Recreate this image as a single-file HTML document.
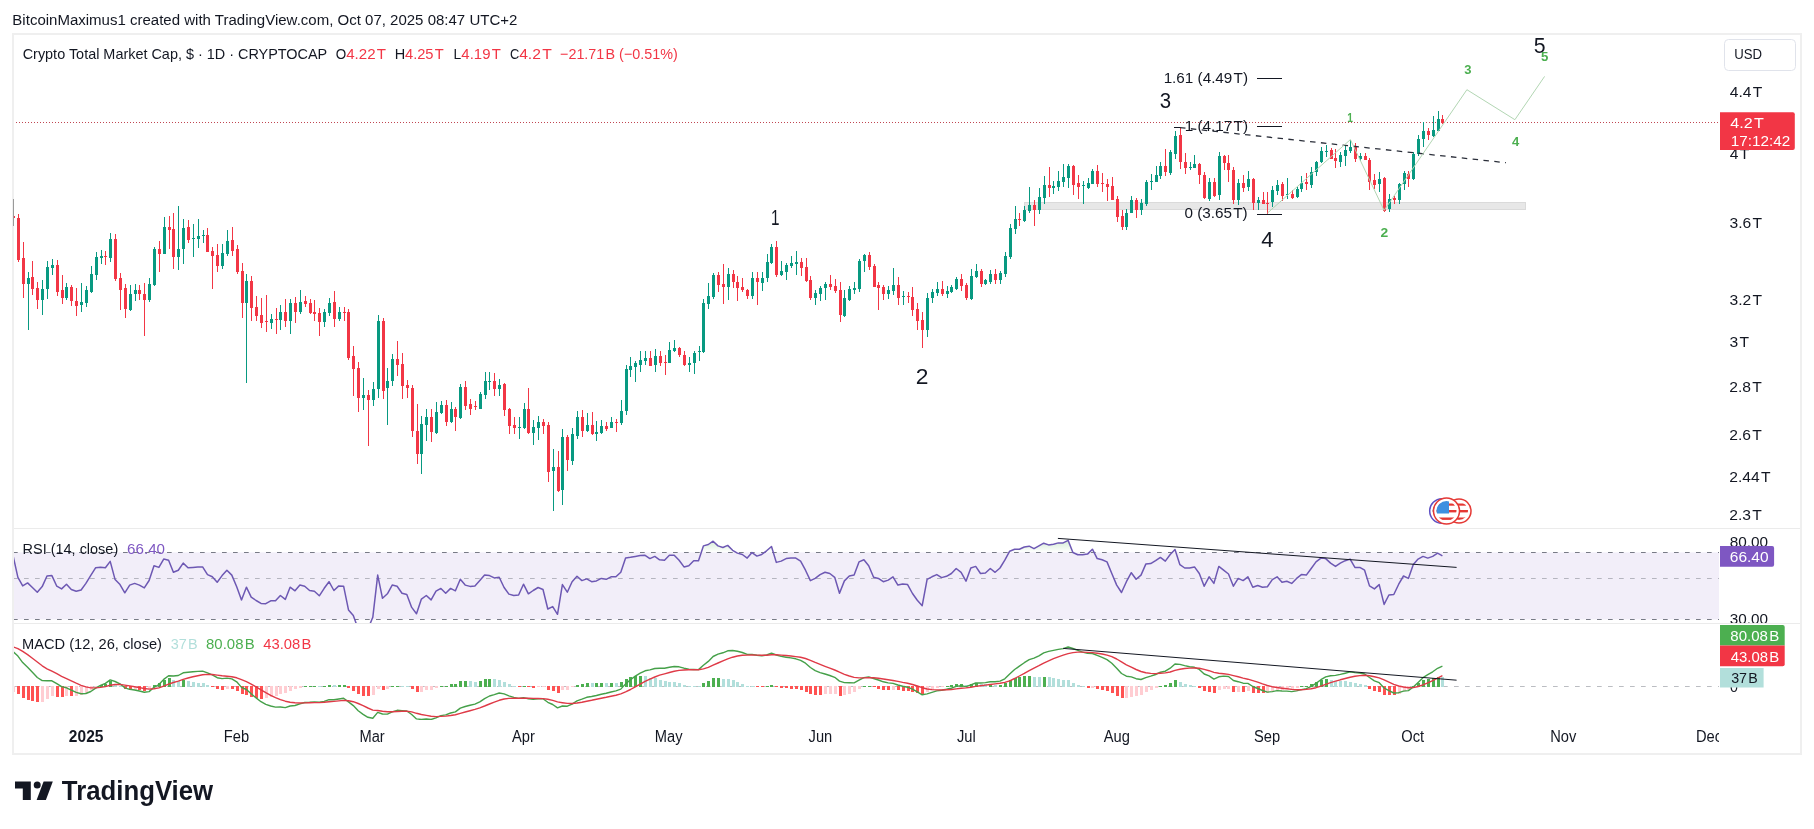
<!DOCTYPE html>
<html><head><meta charset="utf-8"><title>Crypto Total Market Cap chart</title>
<style>html,body{margin:0;padding:0;background:#fff;}body{width:1814px;height:829px;position:relative;overflow:hidden;font-family:"Liberation Sans",sans-serif;}</style>
</head><body>
<svg width="1814" height="829" viewBox="0 0 1814 829" style="position:absolute;left:0;top:0"><defs><clipPath id="cp"><rect x="13" y="34" width="1706" height="494"/></clipPath><clipPath id="cr"><rect x="13" y="529" width="1706" height="94"/></clipPath><clipPath id="cm"><rect x="13" y="624" width="1706" height="96"/></clipPath><clipPath id="ct"><rect x="13" y="720" width="1706" height="33"/></clipPath></defs><rect x="12" y="33" width="1790" height="722" fill="#fff"/><path d="M13 528.5H1800M13 623.5H1800" stroke="#ebebeb" stroke-width="1"/><g clip-path="url(#cp)"><rect x="1024.5" y="202.5" width="501" height="7" fill="#e7e7e7" stroke="#dadada" stroke-width="1"/><line x1="13" y1="122.5" x2="1719" y2="122.5" stroke="#c04652" stroke-width="1" stroke-dasharray="1 2"/><path d="M28.5 272V330M42.5 280V315M47.5 261V299M52.5 259V275M66.5 283V300M81.5 283V312M86.5 286V307M91.5 266V293M96.5 252V280M101.5 250V264M110.5 233V262M130.5 285V311M135.5 284V301M149.5 278V302M154.5 247V286M164.5 217V254M178.5 206V270M183.5 219V264M193.5 224V257M198.5 219V248M203.5 230V243M222.5 244V269M227.5 230V256M246.5 274V383M271.5 314V329M280.5 305V330M290.5 299V334M300.5 290V314M324.5 309V327M329.5 298V316M339.5 307V321M363.5 378V410M373.5 382V406M378.5 315V398M387.5 368V425M392.5 354V386M421.5 416V474M426.5 409V441M436.5 402V434M441.5 401V414M451.5 402V423M460.5 384V419M480.5 392V409M485.5 372V399M489.5 372V390M499.5 379V396M519.5 417V439M524.5 403V429M533.5 420V445M538.5 416V440M553.5 449V511M562.5 429V505M572.5 428V465M577.5 411V439M587.5 413V432M596.5 421V441M601.5 420V434M611.5 417V428M621.5 400V425M626.5 365V415M630.5 357V377M635.5 361V382M640.5 351V372M645.5 351V365M655.5 349V372M669.5 342V363M674.5 340V352M689.5 357V372M694.5 351V374M699.5 346V361M703.5 299V353M708.5 283V309M713.5 273V299M728.5 268V300M752.5 272V299M762.5 272V291M767.5 254V282M771.5 244V264M781.5 261V276M786.5 263V280M791.5 256V268M796.5 251V275M815.5 290V305M820.5 286V301M825.5 282V300M844.5 290V317M849.5 286V301M854.5 282V294M859.5 259V292M864.5 254V272M888.5 286V299M893.5 268V295M903.5 291V305M927.5 293V337M932.5 289V303M937.5 282V296M947.5 286V298M951.5 285V293M956.5 277V290M971.5 269V300M976.5 264V278M985.5 279V285M990.5 270V284M1000.5 271V284M1005.5 252V277M1010.5 224V259M1015.5 206V234M1024.5 206V222M1029.5 187V213M1039.5 188V214M1044.5 176V204M1053.5 181V194M1058.5 171V191M1063.5 164V187M1068.5 164V188M1083.5 181V204M1088.5 178V189M1092.5 169V184M1126.5 209V230M1131.5 196V213M1141.5 199V215M1146.5 180V206M1151.5 174V190M1156.5 166V182M1160.5 162V179M1170.5 150V175M1175.5 131V159M1190.5 162V170M1194.5 155V168M1209.5 178V201M1219.5 152V200M1238.5 179V205M1248.5 171V191M1258.5 197V210M1272.5 186V207M1277.5 180V195M1287.5 178V199M1297.5 187V198M1301.5 176V192M1311.5 167V188M1316.5 161V176M1321.5 147V163M1326.5 145V157M1340.5 152V167M1345.5 146V166M1350.5 140V153M1360.5 153V161M1379.5 172V192M1389.5 194V212M1399.5 183V204M1404.5 171V190M1413.5 152V180M1418.5 135V156M1423.5 122V147M1433.5 116V137M1438.5 111V131" stroke="#089981" stroke-width="1" fill="none"/><path d="M27 278h3v6h-3zM41 289h3v11h-3zM46 267h3v22h-3zM51 265h3v3h-3zM65 287h3v11h-3zM80 302h3v3h-3zM85 290h3v13h-3zM90 274h3v18h-3zM95 257h3v18h-3zM100 256h3v2h-3zM109 239h3v19h-3zM129 294h3v16h-3zM134 290h3v4h-3zM148 284h3v16h-3zM153 249h3v36h-3zM163 227h3v27h-3zM177 249h3v8h-3zM182 228h3v21h-3zM192 238h3v1h-3zM197 236h3v3h-3zM202 235h3v1h-3zM221 253h3v13h-3zM226 241h3v13h-3zM245 281h3v22h-3zM270 319h3v4h-3zM279 312h3v8h-3zM289 303h3v18h-3zM299 302h3v10h-3zM323 312h3v10h-3zM328 303h3v10h-3zM338 312h3v7h-3zM362 395h3v3h-3zM372 389h3v11h-3zM377 321h3v68h-3zM386 381h3v7h-3zM391 359h3v22h-3zM420 424h3v30h-3zM425 417h3v8h-3zM435 412h3v21h-3zM440 405h3v8h-3zM450 409h3v13h-3zM459 387h3v31h-3zM479 394h3v15h-3zM484 381h3v14h-3zM488 381h3v1h-3zM498 385h3v4h-3zM518 427h3v1h-3zM523 409h3v19h-3zM532 427h3v6h-3zM537 422h3v6h-3zM552 467h3v4h-3zM561 437h3v53h-3zM571 434h3v27h-3zM576 417h3v19h-3zM586 425h3v6h-3zM595 432h3v2h-3zM600 426h3v7h-3zM610 422h3v6h-3zM620 411h3v12h-3zM625 369h3v42h-3zM629 366h3v4h-3zM634 363h3v4h-3zM639 360h3v5h-3zM644 358h3v3h-3zM654 356h3v9h-3zM668 350h3v13h-3zM673 348h3v3h-3zM688 363h3v2h-3zM693 353h3v10h-3zM698 351h3v1h-3zM702 303h3v49h-3zM707 296h3v8h-3zM712 275h3v22h-3zM727 274h3v13h-3zM751 278h3v18h-3zM761 278h3v5h-3zM766 262h3v16h-3zM770 247h3v16h-3zM780 271h3v4h-3zM785 265h3v7h-3zM790 263h3v3h-3zM795 262h3v2h-3zM814 293h3v5h-3zM819 288h3v6h-3zM824 284h3v4h-3zM843 298h3v18h-3zM848 289h3v11h-3zM853 288h3v2h-3zM858 261h3v28h-3zM863 255h3v6h-3zM887 290h3v4h-3zM892 285h3v6h-3zM902 296h3v1h-3zM926 298h3v32h-3zM931 292h3v6h-3zM936 289h3v4h-3zM946 291h3v3h-3zM950 287h3v5h-3zM955 279h3v10h-3zM970 276h3v23h-3zM975 271h3v6h-3zM984 280h3v4h-3zM989 274h3v8h-3zM999 273h3v7h-3zM1004 256h3v18h-3zM1009 228h3v29h-3zM1014 219h3v10h-3zM1023 210h3v11h-3zM1028 205h3v6h-3zM1038 197h3v13h-3zM1043 185h3v13h-3zM1052 186h3v2h-3zM1057 181h3v6h-3zM1062 177h3v5h-3zM1067 166h3v12h-3zM1082 185h3v1h-3zM1087 183h3v5h-3zM1091 171h3v13h-3zM1125 213h3v14h-3zM1130 200h3v13h-3zM1140 203h3v7h-3zM1145 182h3v22h-3zM1150 181h3v1h-3zM1155 175h3v7h-3zM1159 166h3v10h-3zM1169 152h3v21h-3zM1174 136h3v18h-3zM1189 167h3v1h-3zM1193 164h3v4h-3zM1208 182h3v17h-3zM1218 156h3v39h-3zM1237 183h3v17h-3zM1247 179h3v8h-3zM1257 200h3v3h-3zM1271 190h3v12h-3zM1276 185h3v6h-3zM1286 194h3v1h-3zM1296 189h3v8h-3zM1300 183h3v6h-3zM1310 172h3v13h-3zM1315 162h3v10h-3zM1320 151h3v11h-3zM1325 151h3v1h-3zM1339 155h3v7h-3zM1344 150h3v6h-3zM1349 147h3v4h-3zM1359 156h3v3h-3zM1378 179h3v5h-3zM1388 199h3v10h-3zM1398 184h3v16h-3zM1403 173h3v11h-3zM1412 154h3v25h-3zM1417 139h3v15h-3zM1422 131h3v8h-3zM1432 130h3v6h-3zM1437 119h3v12h-3z" fill="#089981"/><path d="M13.5 199V225M18.5 214V262M23.5 242V298M32.5 261V295M37.5 282V309M57.5 260V296M62.5 275V304M71.5 285V306M76.5 288V316M105.5 251V265M115.5 234V281M120.5 273V310M125.5 284V318M139.5 285V300M144.5 283V336M159.5 241V272M169.5 216V249M173.5 213V269M188.5 220V243M207.5 228V252M212.5 247V289M217.5 244V272M232.5 227V256M237.5 245V274M242.5 263V318M251.5 276V321M256.5 296V321M261.5 298V328M266.5 295V332M276.5 308V334M285.5 299V327M295.5 297V323M305.5 296V307M310.5 299V314M314.5 300V321M319.5 308V336M334.5 291V327M344.5 307V321M348.5 309V360M353.5 346V396M358.5 362V412M368.5 390V446M383.5 318V399M397.5 341V376M402.5 353V399M407.5 380V398M412.5 385V437M417.5 404V464M431.5 409V442M446.5 400V426M455.5 407V431M465.5 381V410M470.5 399V415M475.5 401V410M494.5 373V396M504.5 383V416M509.5 408V434M514.5 417V434M528.5 388V434M543.5 419V434M548.5 422V482M558.5 451V492M567.5 435V471M582.5 410V437M592.5 412V435M606.5 422V431M616.5 419V432M650.5 351V366M660.5 351V366M665.5 355V375M679.5 347V357M684.5 351V366M718.5 272V292M723.5 264V304M733.5 270V288M737.5 276V301M742.5 278V292M747.5 289V299M757.5 272V305M776.5 241V277M801.5 258V276M806.5 258V282M810.5 276V300M830.5 275V290M835.5 279V293M840.5 282V322M869.5 252V270M874.5 264V287M878.5 282V310M883.5 285V300M898.5 277V305M908.5 292V303M912.5 287V316M917.5 303V330M922.5 312V348M942.5 281V296M961.5 274V291M966.5 283V300M981.5 269V287M995.5 269V284M1019.5 213V226M1034.5 200V226M1049.5 167V197M1073.5 165V195M1078.5 175V199M1097.5 165V187M1102.5 173V192M1107.5 179V201M1112.5 177V200M1117.5 196V222M1122.5 210V230M1136.5 198V218M1165.5 149V176M1180.5 127V169M1185.5 153V174M1199.5 163V184M1204.5 172V199M1214.5 178V197M1224.5 155V170M1228.5 155V182M1233.5 167V204M1243.5 175V192M1253.5 178V210M1263.5 192V204M1267.5 192V214M1282.5 182V201M1292.5 190V199M1306.5 173V190M1331.5 148V159M1335.5 149V168M1355.5 143V162M1365.5 153V160M1369.5 158V190M1374.5 174V189M1384.5 177V212M1394.5 196V204M1408.5 171V187M1428.5 128V140M1442.5 115V124" stroke="#f23645" stroke-width="1" fill="none"/><path d="M12 216h3v2h-3zM17 218h3v42h-3zM22 258h3v26h-3zM31 277h3v12h-3zM36 288h3v12h-3zM56 265h3v27h-3zM61 290h3v8h-3zM70 287h3v14h-3zM75 301h3v5h-3zM104 256h3v1h-3zM114 239h3v40h-3zM119 278h3v12h-3zM124 288h3v21h-3zM138 290h3v4h-3zM143 294h3v6h-3zM158 249h3v5h-3zM168 227h3v3h-3zM172 229h3v28h-3zM187 227h3v13h-3zM206 235h3v17h-3zM211 251h3v5h-3zM216 255h3v11h-3zM231 240h3v11h-3zM236 249h3v23h-3zM241 271h3v32h-3zM250 281h3v27h-3zM255 307h3v9h-3zM260 315h3v8h-3zM265 321h3v1h-3zM275 319h3v1h-3zM284 312h3v9h-3zM294 303h3v9h-3zM304 301h3v3h-3zM309 303h3v10h-3zM313 312h3v2h-3zM318 313h3v9h-3zM333 302h3v17h-3zM343 312h3v1h-3zM347 312h3v46h-3zM352 356h3v13h-3zM357 368h3v30h-3zM367 395h3v5h-3zM382 321h3v70h-3zM396 359h3v6h-3zM401 364h3v22h-3zM406 385h3v3h-3zM411 388h3v43h-3zM416 431h3v23h-3zM430 417h3v15h-3zM445 405h3v17h-3zM454 409h3v8h-3zM464 387h3v19h-3zM469 404h3v5h-3zM474 406h3v1h-3zM493 381h3v8h-3zM503 384h3v26h-3zM508 409h3v17h-3zM513 425h3v3h-3zM527 409h3v24h-3zM542 422h3v4h-3zM547 425h3v47h-3zM557 467h3v24h-3zM566 437h3v23h-3zM581 417h3v14h-3zM591 425h3v9h-3zM605 426h3v3h-3zM615 422h3v1h-3zM649 358h3v8h-3zM659 356h3v7h-3zM664 362h3v1h-3zM678 348h3v7h-3zM683 355h3v10h-3zM717 275h3v10h-3zM722 284h3v3h-3zM732 274h3v8h-3zM736 282h3v6h-3zM741 287h3v3h-3zM746 290h3v6h-3zM756 278h3v4h-3zM775 247h3v28h-3zM800 262h3v6h-3zM805 267h3v14h-3zM809 280h3v18h-3zM829 284h3v3h-3zM834 286h3v5h-3zM839 290h3v25h-3zM868 255h3v12h-3zM873 266h3v21h-3zM877 285h3v3h-3zM882 287h3v7h-3zM897 285h3v13h-3zM907 296h3v1h-3zM911 297h3v13h-3zM916 309h3v12h-3zM921 320h3v10h-3zM941 289h3v5h-3zM960 279h3v7h-3zM965 285h3v13h-3zM980 271h3v13h-3zM994 274h3v6h-3zM1018 219h3v1h-3zM1033 205h3v5h-3zM1048 185h3v3h-3zM1072 166h3v19h-3zM1077 183h3v4h-3zM1096 171h3v13h-3zM1101 183h3v1h-3zM1106 184h3v3h-3zM1111 186h3v14h-3zM1116 199h3v18h-3zM1121 216h3v11h-3zM1135 200h3v10h-3zM1164 166h3v6h-3zM1179 135h3v27h-3zM1184 162h3v6h-3zM1198 164h3v11h-3zM1203 175h3v23h-3zM1213 182h3v14h-3zM1223 156h3v7h-3zM1227 163h3v7h-3zM1232 170h3v30h-3zM1242 183h3v5h-3zM1252 179h3v24h-3zM1262 200h3v4h-3zM1266 203h3v1h-3zM1281 184h3v12h-3zM1291 194h3v4h-3zM1305 182h3v2h-3zM1330 150h3v9h-3zM1334 158h3v3h-3zM1354 147h3v12h-3zM1364 156h3v4h-3zM1368 160h3v22h-3zM1373 180h3v5h-3zM1383 178h3v33h-3zM1393 198h3v2h-3zM1407 174h3v5h-3zM1427 131h3v4h-3zM1441 119h3v4h-3z" fill="#f23645"/><line x1="1257" y1="78.5" x2="1282" y2="78.5" stroke="#131722" stroke-width="1"/><line x1="1257" y1="126.5" x2="1282" y2="126.5" stroke="#131722" stroke-width="1"/><line x1="1257" y1="214.5" x2="1282" y2="214.5" stroke="#131722" stroke-width="1"/><line x1="1174" y1="127.5" x2="1181" y2="127.5" stroke="#131722" stroke-width="1"/><line x1="1180" y1="127.6" x2="1506" y2="162.7" stroke="#2a2e39" stroke-width="1.3" stroke-dasharray="5.5 5.4"/><polyline points="1267.4,213.1 1350.4,139.6 1384.1,210.4 1466.9,89.7 1514.9,119.7 1544.6,76.4" fill="none" stroke="#b2d6b3" stroke-width="1"/><clipPath id="fc1"><circle cx="1442" cy="511" r="9.3"/></clipPath><circle cx="1442" cy="511" r="12.3" fill="#fff" stroke="#5c4fc4" stroke-width="1.5"/><g clip-path="url(#fc1)"><rect x="1427" y="503.5" width="30" height="2.2" fill="#e53935"/><rect x="1427" y="510" width="30" height="2.4" fill="#e53935"/><rect x="1427" y="517.5" width="30" height="2.4" fill="#e53935"/><rect x="1429.7" y="498.7" width="14.8" height="14.8" fill="#3d8fe0"/></g><clipPath id="fc2"><circle cx="1459" cy="511" r="9"/></clipPath><circle cx="1459" cy="511" r="12" fill="#fff" stroke="#e53935" stroke-width="1.5"/><g clip-path="url(#fc2)"><rect x="1444" y="503.5" width="30" height="2.2" fill="#e53935"/><rect x="1444" y="510" width="30" height="2.4" fill="#e53935"/><rect x="1444" y="517.5" width="30" height="2.4" fill="#e53935"/></g><clipPath id="fc3"><circle cx="1446.5" cy="511" r="10"/></clipPath><circle cx="1446.5" cy="511" r="13" fill="#fff" stroke="#e53935" stroke-width="1.5"/><g clip-path="url(#fc3)"><rect x="1431.5" y="503.5" width="30" height="2.2" fill="#e53935"/><rect x="1431.5" y="510" width="30" height="2.4" fill="#e53935"/><rect x="1431.5" y="517.5" width="30" height="2.4" fill="#e53935"/><rect x="1433.5" y="498" width="15.5" height="15.5" fill="#3d8fe0"/></g></g><g clip-path="url(#cr)"><rect x="13" y="552.4" width="1706" height="67" fill="#7e57c2" fill-opacity="0.1"/><line x1="13" y1="552.5" x2="1719" y2="552.5" stroke="#787b86" stroke-width="1" stroke-dasharray="4.7 6.3"/><line x1="13" y1="578.5" x2="1719" y2="578.5" stroke="#787b86" stroke-opacity="0.5" stroke-width="1" stroke-dasharray="4.7 6.3"/><line x1="13" y1="619.5" x2="1719" y2="619.5" stroke="#787b86" stroke-width="1" stroke-dasharray="4.7 6.3"/><defs><linearGradient id="obg" gradientUnits="userSpaceOnUse" x1="0" y1="552.4" x2="0" y2="502.2"><stop offset="0" stop-color="#4caf50" stop-opacity="0"/><stop offset="1" stop-color="#4caf50" stop-opacity="1"/></linearGradient><clipPath id="obc"><rect x="13" y="529" width="1706" height="23.4"/></clipPath></defs><polygon points="13.0,555.3 17.9,577.3 22.7,585.9 27.6,582.9 32.4,587.5 37.3,592.2 42.2,586.6 47.0,576.0 51.9,575.6 56.8,586.2 61.6,588.9 66.5,584.2 71.3,589.5 76.2,591.2 81.1,590.0 85.9,583.4 90.8,575.4 95.7,567.7 100.5,567.2 105.4,567.7 110.2,561.4 115.1,579.6 120.0,584.6 124.8,592.8 129.7,585.1 134.6,583.4 139.4,585.1 144.3,587.9 149.1,580.5 154.0,565.7 158.9,567.4 163.7,559.1 168.6,560.2 173.4,572.3 178.3,570.2 183.2,563.1 188.0,567.7 192.9,567.4 197.8,567.0 202.6,566.9 207.5,574.6 212.3,576.8 217.2,582.2 222.1,575.6 226.9,570.2 231.8,575.1 236.7,586.8 241.5,599.9 246.4,587.2 251.2,597.1 256.1,600.5 261.0,603.4 265.8,603.7 270.7,600.8 275.5,600.8 280.4,595.5 285.3,599.4 290.1,587.2 295.0,590.8 299.9,585.1 304.7,586.2 309.6,590.5 314.4,591.3 319.3,595.8 324.2,588.3 329.0,581.7 333.9,590.5 338.8,585.9 343.6,586.2 348.5,609.9 353.3,615.6 358.2,629.0 363.1,633.0 367.9,629.0 372.8,617.3 377.7,575.1 382.5,598.3 387.4,593.8 392.2,585.1 397.1,586.2 402.0,593.3 406.8,594.5 411.7,607.4 416.5,613.7 421.4,599.1 426.3,595.5 431.1,599.9 436.0,591.2 440.9,588.4 445.7,593.3 450.6,588.4 455.4,590.8 460.3,579.3 465.2,585.1 470.0,586.4 474.9,585.9 479.8,580.5 484.6,575.1 489.5,575.6 494.3,577.9 499.2,577.3 504.1,587.5 508.9,594.1 513.8,595.5 518.6,595.0 523.5,584.2 528.4,593.8 533.2,590.5 538.1,587.5 543.0,589.5 547.8,609.0 552.7,606.6 557.5,614.3 562.4,584.6 567.3,592.2 572.1,581.7 577.0,576.3 581.9,580.6 586.7,578.9 591.6,581.7 596.4,580.9 601.3,578.4 606.2,579.3 611.0,576.8 615.9,576.8 620.8,572.3 625.6,558.1 630.5,557.3 635.3,556.4 640.2,555.6 645.1,555.3 649.9,558.6 654.8,556.4 659.6,559.8 664.5,560.2 669.4,555.3 674.2,555.3 679.1,560.3 684.0,566.9 688.8,565.7 693.7,560.7 698.5,560.7 703.4,545.9 708.3,544.5 713.1,541.2 718.0,545.9 722.9,547.5 727.7,545.4 732.6,550.3 737.4,553.1 742.3,554.5 747.2,558.1 752.0,552.6 756.9,556.1 761.7,554.5 766.6,550.8 771.5,546.5 776.3,562.4 781.2,561.1 786.1,558.6 790.9,558.0 795.8,558.1 800.6,561.1 805.5,570.2 810.4,580.6 815.2,578.4 820.1,574.6 825.0,572.3 829.8,573.5 834.7,577.3 839.5,593.3 844.4,580.9 849.3,576.0 854.1,575.1 859.0,561.9 863.9,559.8 868.7,565.7 873.6,577.3 878.4,578.4 883.3,581.7 888.2,580.1 893.0,576.8 897.9,585.1 902.7,583.9 907.6,584.6 912.5,593.5 917.3,600.3 922.2,605.7 927.1,579.3 931.9,576.8 936.8,574.6 941.6,577.6 946.5,576.3 951.4,573.5 956.2,568.5 961.1,572.3 966.0,581.2 970.8,568.0 975.7,566.4 980.5,573.5 985.4,573.0 990.3,568.5 995.1,572.3 1000.0,568.0 1004.8,560.2 1009.7,551.2 1014.6,549.2 1019.4,549.2 1024.3,547.0 1029.2,546.2 1034.0,548.7 1038.9,545.9 1043.7,543.2 1048.6,544.9 1053.5,544.2 1058.3,542.9 1063.2,542.9 1068.1,540.4 1072.9,552.5 1077.8,554.8 1082.6,554.7 1087.5,554.1 1092.4,549.2 1097.2,558.6 1102.1,559.8 1107.0,561.9 1111.8,573.5 1116.7,585.1 1121.5,592.5 1126.4,581.7 1131.3,572.7 1136.1,579.3 1141.0,575.1 1145.8,564.1 1150.7,563.6 1155.6,560.7 1160.4,557.4 1165.3,561.1 1170.2,554.5 1175.0,549.5 1179.9,564.7 1184.7,568.0 1189.6,568.1 1194.5,566.9 1199.3,573.5 1204.2,586.2 1209.1,576.8 1213.9,583.4 1218.8,566.4 1223.6,570.2 1228.5,574.0 1233.4,586.2 1238.2,578.4 1243.1,580.6 1247.9,576.8 1252.8,587.2 1257.7,585.5 1262.5,587.2 1267.4,586.7 1272.3,579.6 1277.1,576.8 1282.0,582.2 1286.8,581.2 1291.7,583.4 1296.6,578.4 1301.4,574.6 1306.3,575.1 1311.2,568.5 1316.0,561.9 1320.9,558.1 1325.7,558.6 1330.6,563.1 1335.5,566.4 1340.3,563.1 1345.2,560.7 1350.1,559.1 1354.9,567.4 1359.8,567.4 1364.6,570.2 1369.5,585.9 1374.4,588.9 1379.2,584.6 1384.1,604.4 1388.9,595.0 1393.8,594.5 1398.7,584.2 1403.5,576.0 1408.4,578.4 1413.3,564.4 1418.1,559.1 1423.0,556.4 1427.8,558.1 1432.7,556.4 1437.6,553.1 1442.4,555.8 1442.2,552.4 13.4,552.4" fill="url(#obg)" clip-path="url(#obc)"/><polyline points="13.0,555.3 17.9,577.3 22.7,585.9 27.6,582.9 32.4,587.5 37.3,592.2 42.2,586.6 47.0,576.0 51.9,575.6 56.8,586.2 61.6,588.9 66.5,584.2 71.3,589.5 76.2,591.2 81.1,590.0 85.9,583.4 90.8,575.4 95.7,567.7 100.5,567.2 105.4,567.7 110.2,561.4 115.1,579.6 120.0,584.6 124.8,592.8 129.7,585.1 134.6,583.4 139.4,585.1 144.3,587.9 149.1,580.5 154.0,565.7 158.9,567.4 163.7,559.1 168.6,560.2 173.4,572.3 178.3,570.2 183.2,563.1 188.0,567.7 192.9,567.4 197.8,567.0 202.6,566.9 207.5,574.6 212.3,576.8 217.2,582.2 222.1,575.6 226.9,570.2 231.8,575.1 236.7,586.8 241.5,599.9 246.4,587.2 251.2,597.1 256.1,600.5 261.0,603.4 265.8,603.7 270.7,600.8 275.5,600.8 280.4,595.5 285.3,599.4 290.1,587.2 295.0,590.8 299.9,585.1 304.7,586.2 309.6,590.5 314.4,591.3 319.3,595.8 324.2,588.3 329.0,581.7 333.9,590.5 338.8,585.9 343.6,586.2 348.5,609.9 353.3,615.6 358.2,629.0 363.1,633.0 367.9,629.0 372.8,617.3 377.7,575.1 382.5,598.3 387.4,593.8 392.2,585.1 397.1,586.2 402.0,593.3 406.8,594.5 411.7,607.4 416.5,613.7 421.4,599.1 426.3,595.5 431.1,599.9 436.0,591.2 440.9,588.4 445.7,593.3 450.6,588.4 455.4,590.8 460.3,579.3 465.2,585.1 470.0,586.4 474.9,585.9 479.8,580.5 484.6,575.1 489.5,575.6 494.3,577.9 499.2,577.3 504.1,587.5 508.9,594.1 513.8,595.5 518.6,595.0 523.5,584.2 528.4,593.8 533.2,590.5 538.1,587.5 543.0,589.5 547.8,609.0 552.7,606.6 557.5,614.3 562.4,584.6 567.3,592.2 572.1,581.7 577.0,576.3 581.9,580.6 586.7,578.9 591.6,581.7 596.4,580.9 601.3,578.4 606.2,579.3 611.0,576.8 615.9,576.8 620.8,572.3 625.6,558.1 630.5,557.3 635.3,556.4 640.2,555.6 645.1,555.3 649.9,558.6 654.8,556.4 659.6,559.8 664.5,560.2 669.4,555.3 674.2,555.3 679.1,560.3 684.0,566.9 688.8,565.7 693.7,560.7 698.5,560.7 703.4,545.9 708.3,544.5 713.1,541.2 718.0,545.9 722.9,547.5 727.7,545.4 732.6,550.3 737.4,553.1 742.3,554.5 747.2,558.1 752.0,552.6 756.9,556.1 761.7,554.5 766.6,550.8 771.5,546.5 776.3,562.4 781.2,561.1 786.1,558.6 790.9,558.0 795.8,558.1 800.6,561.1 805.5,570.2 810.4,580.6 815.2,578.4 820.1,574.6 825.0,572.3 829.8,573.5 834.7,577.3 839.5,593.3 844.4,580.9 849.3,576.0 854.1,575.1 859.0,561.9 863.9,559.8 868.7,565.7 873.6,577.3 878.4,578.4 883.3,581.7 888.2,580.1 893.0,576.8 897.9,585.1 902.7,583.9 907.6,584.6 912.5,593.5 917.3,600.3 922.2,605.7 927.1,579.3 931.9,576.8 936.8,574.6 941.6,577.6 946.5,576.3 951.4,573.5 956.2,568.5 961.1,572.3 966.0,581.2 970.8,568.0 975.7,566.4 980.5,573.5 985.4,573.0 990.3,568.5 995.1,572.3 1000.0,568.0 1004.8,560.2 1009.7,551.2 1014.6,549.2 1019.4,549.2 1024.3,547.0 1029.2,546.2 1034.0,548.7 1038.9,545.9 1043.7,543.2 1048.6,544.9 1053.5,544.2 1058.3,542.9 1063.2,542.9 1068.1,540.4 1072.9,552.5 1077.8,554.8 1082.6,554.7 1087.5,554.1 1092.4,549.2 1097.2,558.6 1102.1,559.8 1107.0,561.9 1111.8,573.5 1116.7,585.1 1121.5,592.5 1126.4,581.7 1131.3,572.7 1136.1,579.3 1141.0,575.1 1145.8,564.1 1150.7,563.6 1155.6,560.7 1160.4,557.4 1165.3,561.1 1170.2,554.5 1175.0,549.5 1179.9,564.7 1184.7,568.0 1189.6,568.1 1194.5,566.9 1199.3,573.5 1204.2,586.2 1209.1,576.8 1213.9,583.4 1218.8,566.4 1223.6,570.2 1228.5,574.0 1233.4,586.2 1238.2,578.4 1243.1,580.6 1247.9,576.8 1252.8,587.2 1257.7,585.5 1262.5,587.2 1267.4,586.7 1272.3,579.6 1277.1,576.8 1282.0,582.2 1286.8,581.2 1291.7,583.4 1296.6,578.4 1301.4,574.6 1306.3,575.1 1311.2,568.5 1316.0,561.9 1320.9,558.1 1325.7,558.6 1330.6,563.1 1335.5,566.4 1340.3,563.1 1345.2,560.7 1350.1,559.1 1354.9,567.4 1359.8,567.4 1364.6,570.2 1369.5,585.9 1374.4,588.9 1379.2,584.6 1384.1,604.4 1388.9,595.0 1393.8,594.5 1398.7,584.2 1403.5,576.0 1408.4,578.4 1413.3,564.4 1418.1,559.1 1423.0,556.4 1427.8,558.1 1432.7,556.4 1437.6,553.1 1442.4,555.8" fill="none" stroke="#6d58b3" stroke-width="1.5" stroke-linejoin="round"/><line x1="1057.9" y1="538.4" x2="1456.6" y2="567.4" stroke="#131722" stroke-width="1"/></g><g clip-path="url(#cm)"><line x1="13" y1="686.5" x2="1719" y2="686.5" stroke="#787b86" stroke-opacity="0.5" stroke-width="1" stroke-dasharray="4.7 6.3"/><path d="M12 686h3v6h-3zM41 686h3v16h-3zM46 686h3v13h-3zM51 686h3v10h-3zM65 686h3v10h-3zM75 686h3v10h-3zM80 686h3v9h-3zM85 686h3v7h-3zM90 686h3v4h-3zM95 686h3v1h-3zM134 686h3v4h-3zM148 686h3v3h-3zM226 686h3v3h-3zM265 686h3v12h-3zM270 686h3v11h-3zM275 686h3v10h-3zM279 686h3v8h-3zM284 686h3v7h-3zM289 686h3v5h-3zM294 686h3v3h-3zM299 686h3v2h-3zM372 686h3v9h-3zM377 686h3v3h-3zM386 686h3v3h-3zM420 686h3v6h-3zM425 686h3v4h-3zM430 686h3v4h-3zM435 686h3v2h-3zM537 686h3v1h-3zM542 686h3v1h-3zM561 686h3v4h-3zM566 686h3v4h-3zM571 686h3v1h-3zM824 686h3v8h-3zM829 686h3v8h-3zM834 686h3v8h-3zM843 686h3v9h-3zM848 686h3v8h-3zM853 686h3v6h-3zM858 686h3v3h-3zM892 686h3v4h-3zM926 686h3v6h-3zM931 686h3v4h-3zM936 686h3v2h-3zM941 686h3v1h-3zM1091 686h3v2h-3zM1125 686h3v12h-3zM1130 686h3v11h-3zM1135 686h3v10h-3zM1140 686h3v9h-3zM1145 686h3v6h-3zM1150 686h3v4h-3zM1155 686h3v2h-3zM1218 686h3v4h-3zM1223 686h3v3h-3zM1227 686h3v3h-3zM1237 686h3v6h-3zM1247 686h3v5h-3zM1266 686h3v7h-3zM1271 686h3v6h-3zM1276 686h3v4h-3zM1281 686h3v4h-3zM1286 686h3v3h-3zM1291 686h3v3h-3zM1296 686h3v2h-3zM1398 686h3v8h-3zM1403 686h3v5h-3zM1407 686h3v4h-3z" fill="#ffcdd2"/><path d="M17 686h3v8h-3zM22 686h3v12h-3zM27 686h3v14h-3zM31 686h3v15h-3zM36 686h3v16h-3zM56 686h3v11h-3zM61 686h3v11h-3zM70 686h3v10h-3zM124 686h3v3h-3zM129 686h3v4h-3zM138 686h3v4h-3zM143 686h3v5h-3zM211 686h3v1h-3zM216 686h3v3h-3zM221 686h3v4h-3zM231 686h3v3h-3zM236 686h3v5h-3zM241 686h3v8h-3zM245 686h3v9h-3zM250 686h3v11h-3zM255 686h3v12h-3zM260 686h3v13h-3zM347 686h3v2h-3zM352 686h3v5h-3zM357 686h3v8h-3zM362 686h3v10h-3zM367 686h3v10h-3zM382 686h3v4h-3zM411 686h3v3h-3zM416 686h3v6h-3zM518 686h3v1h-3zM527 686h3v1h-3zM532 686h3v2h-3zM547 686h3v4h-3zM552 686h3v5h-3zM557 686h3v7h-3zM756 686h3v1h-3zM761 686h3v1h-3zM775 686h3v1h-3zM780 686h3v2h-3zM785 686h3v2h-3zM790 686h3v3h-3zM795 686h3v3h-3zM800 686h3v4h-3zM805 686h3v6h-3zM809 686h3v8h-3zM814 686h3v9h-3zM819 686h3v9h-3zM839 686h3v10h-3zM873 686h3v1h-3zM877 686h3v3h-3zM882 686h3v4h-3zM887 686h3v4h-3zM897 686h3v4h-3zM902 686h3v5h-3zM907 686h3v5h-3zM911 686h3v6h-3zM916 686h3v7h-3zM921 686h3v8h-3zM1087 686h3v2h-3zM1096 686h3v3h-3zM1101 686h3v4h-3zM1106 686h3v5h-3zM1111 686h3v7h-3zM1116 686h3v10h-3zM1121 686h3v12h-3zM1198 686h3v2h-3zM1203 686h3v5h-3zM1208 686h3v6h-3zM1213 686h3v7h-3zM1232 686h3v6h-3zM1242 686h3v6h-3zM1252 686h3v7h-3zM1257 686h3v7h-3zM1262 686h3v7h-3zM1368 686h3v3h-3zM1373 686h3v5h-3zM1378 686h3v6h-3zM1383 686h3v9h-3zM1388 686h3v9h-3zM1393 686h3v9h-3z" fill="#ff5252"/><path d="M100 685h3v2h-3zM104 684h3v3h-3zM109 681h3v6h-3zM153 685h3v2h-3zM158 683h3v4h-3zM163 680h3v7h-3zM168 678h3v9h-3zM182 680h3v7h-3zM304 686h3v1h-3zM309 686h3v1h-3zM313 686h3v1h-3zM323 686h3v1h-3zM328 685h3v2h-3zM338 685h3v2h-3zM343 685h3v2h-3zM391 686h3v1h-3zM396 686h3v1h-3zM440 686h3v1h-3zM445 686h3v1h-3zM450 684h3v3h-3zM454 684h3v3h-3zM459 681h3v6h-3zM464 681h3v6h-3zM479 681h3v6h-3zM484 679h3v8h-3zM488 679h3v8h-3zM523 686h3v1h-3zM576 685h3v2h-3zM581 684h3v3h-3zM586 683h3v4h-3zM595 683h3v4h-3zM600 683h3v4h-3zM610 683h3v4h-3zM620 682h3v5h-3zM625 679h3v8h-3zM629 677h3v10h-3zM634 676h3v11h-3zM639 676h3v11h-3zM702 683h3v4h-3zM707 681h3v6h-3zM712 678h3v9h-3zM717 678h3v9h-3zM766 686h3v1h-3zM770 685h3v2h-3zM863 686h3v1h-3zM868 686h3v1h-3zM946 686h3v1h-3zM950 685h3v2h-3zM955 684h3v3h-3zM960 684h3v3h-3zM970 684h3v3h-3zM975 683h3v4h-3zM989 684h3v3h-3zM999 685h3v2h-3zM1004 683h3v4h-3zM1009 680h3v7h-3zM1014 678h3v9h-3zM1018 677h3v10h-3zM1023 676h3v11h-3zM1028 676h3v11h-3zM1043 677h3v10h-3zM1159 686h3v1h-3zM1164 685h3v2h-3zM1169 683h3v4h-3zM1174 680h3v7h-3zM1300 686h3v1h-3zM1305 686h3v1h-3zM1310 684h3v3h-3zM1315 682h3v5h-3zM1320 680h3v7h-3zM1325 679h3v8h-3zM1412 686h3v1h-3zM1417 683h3v4h-3zM1422 680h3v7h-3zM1427 679h3v8h-3zM1432 678h3v9h-3zM1437 677h3v10h-3z" fill="#4caf50"/><path d="M114 684h3v3h-3zM119 686h3v1h-3zM172 680h3v7h-3zM177 681h3v6h-3zM187 681h3v6h-3zM192 682h3v5h-3zM197 683h3v4h-3zM202 683h3v4h-3zM206 685h3v2h-3zM318 686h3v1h-3zM333 685h3v2h-3zM401 686h3v1h-3zM406 686h3v1h-3zM469 681h3v6h-3zM474 682h3v5h-3zM493 679h3v8h-3zM498 680h3v7h-3zM503 682h3v5h-3zM508 684h3v3h-3zM513 686h3v1h-3zM591 683h3v4h-3zM605 683h3v4h-3zM615 683h3v4h-3zM644 676h3v11h-3zM649 678h3v9h-3zM654 678h3v9h-3zM659 680h3v7h-3zM664 681h3v6h-3zM668 682h3v5h-3zM673 682h3v5h-3zM678 683h3v4h-3zM683 685h3v2h-3zM688 686h3v1h-3zM693 686h3v1h-3zM698 686h3v1h-3zM722 679h3v8h-3zM727 679h3v8h-3zM732 680h3v7h-3zM736 682h3v5h-3zM741 684h3v3h-3zM746 686h3v1h-3zM751 686h3v1h-3zM965 685h3v2h-3zM980 684h3v3h-3zM984 684h3v3h-3zM994 685h3v2h-3zM1033 677h3v10h-3zM1038 677h3v10h-3zM1048 677h3v10h-3zM1052 678h3v9h-3zM1057 679h3v8h-3zM1062 680h3v7h-3zM1067 680h3v7h-3zM1072 683h3v4h-3zM1077 685h3v2h-3zM1082 686h3v1h-3zM1179 682h3v5h-3zM1184 684h3v3h-3zM1189 685h3v2h-3zM1193 686h3v1h-3zM1330 680h3v7h-3zM1334 681h3v6h-3zM1339 681h3v6h-3zM1344 681h3v6h-3zM1349 682h3v5h-3zM1354 683h3v4h-3zM1359 684h3v3h-3zM1364 685h3v2h-3zM1441 677h3v10h-3z" fill="#b2dfdb"/><polyline points="13.0,651.5 17.9,656.1 22.7,662.6 27.6,667.3 32.4,672.3 37.3,677.5 42.2,680.6 47.0,680.8 51.9,680.8 56.8,683.7 61.6,686.6 66.5,687.8 71.3,690.1 76.2,692.4 81.1,693.7 85.9,693.5 90.8,691.5 95.7,688.2 100.5,685.4 105.4,683.4 110.2,679.9 115.1,681.5 120.0,683.9 124.8,687.8 129.7,689.3 134.6,690.0 139.4,691.0 144.3,692.2 149.1,691.6 154.0,687.3 158.9,684.5 163.7,679.4 168.6,675.7 173.4,676.0 178.3,675.5 183.2,672.8 188.0,672.3 192.9,671.8 197.8,671.4 202.6,671.1 207.5,672.9 212.3,674.9 217.2,677.7 222.1,678.6 226.9,678.1 231.8,678.9 236.7,681.8 241.5,687.4 246.4,689.5 251.2,693.8 256.1,697.9 261.0,701.7 265.8,704.4 270.7,706.0 275.5,707.1 280.4,707.0 285.3,707.6 290.1,706.0 295.0,705.5 299.9,703.9 304.7,702.5 309.6,702.3 314.4,701.9 319.3,702.3 324.2,701.4 329.0,699.7 333.9,699.8 338.8,699.0 343.6,698.3 348.5,701.9 353.3,705.6 358.2,710.8 363.1,714.4 367.9,717.3 372.8,718.3 377.7,712.4 382.5,714.0 387.4,714.1 392.2,711.8 397.1,710.3 402.0,710.7 406.8,711.0 411.7,714.5 416.5,718.9 421.4,719.5 426.3,719.0 431.1,719.5 436.0,717.9 440.9,715.6 445.7,714.9 450.6,713.0 455.4,711.9 460.3,708.1 465.2,706.5 470.0,705.3 474.9,704.1 479.8,701.8 484.6,698.6 489.5,696.0 494.3,694.6 499.2,693.0 504.1,693.9 508.9,695.8 513.8,697.4 518.6,698.4 523.5,697.6 528.4,698.8 533.2,699.2 538.1,698.9 543.0,698.8 547.8,702.3 552.7,704.5 557.5,707.8 562.4,706.0 567.3,706.2 572.1,704.1 577.0,700.8 581.9,699.2 586.7,697.3 591.6,696.5 596.4,695.5 601.3,694.2 606.2,693.3 611.0,692.0 615.9,690.9 620.8,689.1 625.6,683.9 630.5,679.7 635.3,676.1 640.2,673.2 645.1,670.8 649.9,669.9 654.8,668.5 659.6,668.2 664.5,668.2 669.4,667.2 674.2,666.5 679.1,666.8 684.0,668.2 688.8,669.3 693.7,669.5 698.5,669.6 703.4,665.3 708.3,661.4 713.1,656.5 718.0,654.1 722.9,652.8 727.7,650.8 732.6,650.5 737.4,651.3 742.3,652.5 747.2,654.4 752.0,654.4 756.9,655.3 761.7,655.8 766.6,655.0 771.5,653.1 776.3,655.0 781.2,656.4 786.1,657.2 790.9,657.9 795.8,658.8 800.6,660.3 805.5,663.2 810.4,667.5 815.2,670.6 820.1,672.6 825.0,674.0 829.8,675.5 834.7,677.3 839.5,681.1 844.4,682.6 849.3,682.8 854.1,682.9 859.0,680.2 863.9,677.6 868.7,676.9 873.6,678.5 878.4,680.0 883.3,681.8 888.2,682.9 893.0,683.4 897.9,685.0 902.7,686.2 907.6,687.2 912.5,689.2 917.3,691.9 922.2,694.8 927.1,693.9 931.9,692.4 936.8,690.9 941.6,690.2 946.5,689.3 951.4,688.2 956.2,686.4 961.1,685.8 966.0,686.6 970.8,684.8 975.7,683.0 980.5,683.0 985.4,682.6 990.3,681.7 995.1,681.7 1000.0,681.1 1004.8,678.8 1009.7,674.1 1014.6,669.5 1019.4,666.2 1024.3,662.7 1029.2,659.7 1034.0,658.1 1038.9,655.8 1043.7,652.9 1048.6,651.4 1053.5,650.4 1058.3,649.4 1063.2,648.6 1068.1,647.0 1072.9,648.5 1077.8,650.4 1082.6,652.1 1087.5,653.4 1092.4,653.5 1097.2,655.4 1102.1,657.4 1107.0,659.6 1111.8,663.2 1116.7,668.2 1121.5,673.5 1126.4,676.2 1131.3,676.9 1136.1,678.7 1141.0,679.5 1145.8,677.7 1150.7,676.2 1155.6,674.5 1160.4,672.2 1165.3,671.2 1170.2,668.2 1175.0,664.0 1179.9,664.4 1184.7,665.6 1189.6,666.7 1194.5,667.3 1199.3,669.4 1204.2,674.0 1209.1,675.9 1213.9,679.1 1218.8,676.8 1223.6,676.1 1228.5,676.5 1233.4,680.5 1238.2,681.7 1243.1,683.2 1247.9,683.4 1252.8,686.5 1257.7,688.5 1262.5,690.5 1267.4,692.1 1272.3,691.6 1277.1,690.6 1282.0,691.0 1286.8,691.1 1291.7,691.6 1296.6,690.9 1301.4,689.6 1306.3,688.6 1311.2,686.4 1316.0,683.4 1320.9,679.7 1325.7,676.9 1330.6,675.8 1335.5,675.4 1340.3,674.4 1345.2,673.2 1350.1,671.9 1354.9,672.6 1359.8,673.0 1364.6,674.0 1369.5,677.5 1374.4,680.8 1379.2,682.7 1384.1,688.0 1388.9,690.7 1393.8,693.0 1398.7,692.7 1403.5,691.1 1408.4,690.6 1413.3,687.0 1418.1,682.4 1423.0,677.7 1427.8,674.7 1432.7,671.8 1437.6,668.3 1442.4,666.2" fill="none" stroke="#45a049" stroke-width="1.4" stroke-linejoin="round"/><polyline points="13.0,646.8 17.9,648.6 22.7,651.4 27.6,654.6 32.4,658.2 37.3,662.0 42.2,665.8 47.0,668.8 51.9,671.2 56.8,673.7 61.6,676.3 66.5,678.6 71.3,680.9 76.2,683.2 81.1,685.3 85.9,686.9 90.8,687.9 95.7,687.9 100.5,687.4 105.4,686.6 110.2,685.3 115.1,684.5 120.0,684.4 124.8,685.1 129.7,685.9 134.6,686.7 139.4,687.6 144.3,688.5 149.1,689.1 154.0,688.8 158.9,687.9 163.7,686.2 168.6,684.1 173.4,682.5 178.3,681.1 183.2,679.4 188.0,678.0 192.9,676.8 197.8,675.7 202.6,674.8 207.5,674.4 212.3,674.5 217.2,675.1 222.1,675.8 226.9,676.3 231.8,676.8 236.7,677.8 241.5,679.7 246.4,681.7 251.2,684.1 256.1,686.9 261.0,689.8 265.8,692.7 270.7,695.4 275.5,697.7 280.4,699.6 285.3,701.2 290.1,702.2 295.0,702.8 299.9,703.0 304.7,702.9 309.6,702.8 314.4,702.6 319.3,702.6 324.2,702.3 329.0,701.8 333.9,701.4 338.8,700.9 343.6,700.4 348.5,700.7 353.3,701.7 358.2,703.5 363.1,705.7 367.9,708.0 372.8,710.1 377.7,710.5 382.5,711.2 387.4,711.8 392.2,711.8 397.1,711.5 402.0,711.3 406.8,711.3 411.7,711.9 416.5,713.3 421.4,714.5 426.3,715.4 431.1,716.3 436.0,716.6 440.9,716.4 445.7,716.1 450.6,715.5 455.4,714.7 460.3,713.4 465.2,712.0 470.0,710.7 474.9,709.4 479.8,707.8 484.6,706.0 489.5,704.0 494.3,702.1 499.2,700.3 504.1,699.0 508.9,698.4 513.8,698.2 518.6,698.2 523.5,698.1 528.4,698.2 533.2,698.4 538.1,698.5 543.0,698.6 547.8,699.3 552.7,700.4 557.5,701.9 562.4,702.7 567.3,703.4 572.1,703.5 577.0,703.0 581.9,702.2 586.7,701.2 591.6,700.3 596.4,699.3 601.3,698.3 606.2,697.3 611.0,696.2 615.9,695.2 620.8,693.9 625.6,691.9 630.5,689.5 635.3,686.8 640.2,684.1 645.1,681.4 649.9,679.1 654.8,677.0 659.6,675.2 664.5,673.8 669.4,672.5 674.2,671.3 679.1,670.4 684.0,670.0 688.8,669.8 693.7,669.8 698.5,669.7 703.4,668.9 708.3,667.4 713.1,665.2 718.0,663.0 722.9,660.9 727.7,658.9 732.6,657.2 737.4,656.0 742.3,655.3 747.2,655.1 752.0,655.0 756.9,655.1 761.7,655.2 766.6,655.2 771.5,654.8 776.3,654.8 781.2,655.1 786.1,655.5 790.9,656.0 795.8,656.6 800.6,657.3 805.5,658.5 810.4,660.3 815.2,662.4 820.1,664.4 825.0,666.3 829.8,668.1 834.7,670.0 839.5,672.2 844.4,674.3 849.3,676.0 854.1,677.4 859.0,677.9 863.9,677.9 868.7,677.7 873.6,677.8 878.4,678.3 883.3,679.0 888.2,679.8 893.0,680.5 897.9,681.4 902.7,682.4 907.6,683.3 912.5,684.5 917.3,686.0 922.2,687.7 927.1,689.0 931.9,689.6 936.8,689.9 941.6,690.0 946.5,689.8 951.4,689.5 956.2,688.9 961.1,688.3 966.0,687.9 970.8,687.3 975.7,686.4 980.5,685.8 985.4,685.1 990.3,684.5 995.1,683.9 1000.0,683.3 1004.8,682.4 1009.7,680.8 1014.6,678.5 1019.4,676.0 1024.3,673.4 1029.2,670.6 1034.0,668.1 1038.9,665.7 1043.7,663.1 1048.6,660.8 1053.5,658.7 1058.3,656.8 1063.2,655.2 1068.1,653.6 1072.9,652.6 1077.8,652.1 1082.6,652.1 1087.5,652.4 1092.4,652.6 1097.2,653.2 1102.1,654.0 1107.0,655.1 1111.8,656.7 1116.7,659.0 1121.5,661.9 1126.4,664.8 1131.3,667.2 1136.1,669.5 1141.0,671.5 1145.8,672.7 1150.7,673.4 1155.6,673.6 1160.4,673.3 1165.3,672.9 1170.2,672.0 1175.0,670.4 1179.9,669.2 1184.7,668.5 1189.6,668.1 1194.5,668.0 1199.3,668.2 1204.2,669.4 1209.1,670.7 1213.9,672.4 1218.8,673.3 1223.6,673.8 1228.5,674.4 1233.4,675.6 1238.2,676.8 1243.1,678.1 1247.9,679.2 1252.8,680.6 1257.7,682.2 1262.5,683.9 1267.4,685.5 1272.3,686.7 1277.1,687.5 1282.0,688.2 1286.8,688.8 1291.7,689.4 1296.6,689.7 1301.4,689.7 1306.3,689.4 1311.2,688.8 1316.0,687.7 1320.9,686.1 1325.7,684.3 1330.6,682.6 1335.5,681.2 1340.3,679.8 1345.2,678.5 1350.1,677.2 1354.9,676.3 1359.8,675.6 1364.6,675.3 1369.5,675.7 1374.4,676.7 1379.2,677.9 1384.1,679.9 1388.9,682.1 1393.8,684.3 1398.7,686.0 1403.5,687.0 1408.4,687.7 1413.3,687.6 1418.1,686.5 1423.0,684.8 1427.8,682.8 1432.7,680.6 1437.6,678.1 1442.4,675.7" fill="none" stroke="#df3a47" stroke-width="1.4" stroke-linejoin="round"/><line x1="1063.2" y1="648.4" x2="1456.6" y2="680.2" stroke="#131722" stroke-width="1"/></g><path d="M12 33h1790v722h-1790zM14 35v718h1786v-718z" fill="#efefef" fill-rule="evenodd"/><path d="M13.5 199V226" stroke="#9a9a9a" stroke-width="1"/><rect x="14" y="216" width="1" height="2" fill="#f23645"/></svg><svg width="1814" height="829" viewBox="0 0 1814 829" style="position:absolute;left:0;top:0;will-change:transform" font-family="'Liberation Sans', sans-serif"><defs><clipPath id="ct2"><rect x="13" y="720" width="1706" height="33"/></clipPath><clipPath id="cpa"><rect x="1719" y="34" width="81" height="494"/></clipPath><clipPath id="cra"><rect x="1719" y="529" width="81" height="94"/></clipPath><clipPath id="cma"><rect x="1719" y="624" width="81" height="96"/></clipPath></defs><text x="12.37" y="24.80" font-size="15.30" fill="#131722" textLength="504.99" lengthAdjust="spacingAndGlyphs">BitcoinMaximus1 created with TradingView.com, Oct 07, 2025 08:47 UTC+2</text><text x="22.68" y="58.70" font-size="15.00" fill="#131722" textLength="304.57" lengthAdjust="spacingAndGlyphs">Crypto Total Market Cap, $ · 1D · CRYPTOCAP</text><text x="335.67" y="58.70" font-size="15.00" fill="#131722" textLength="10.48" lengthAdjust="spacingAndGlyphs">O</text><text x="346.17" y="58.70" font-size="15.00" fill="#f23645" textLength="39.87" lengthAdjust="spacingAndGlyphs">4.22 T</text><text x="394.71" y="58.70" font-size="15.00" fill="#131722" textLength="10.46" lengthAdjust="spacingAndGlyphs">H</text><text x="404.98" y="58.70" font-size="15.00" fill="#f23645" textLength="38.76" lengthAdjust="spacingAndGlyphs">4.25 T</text><text x="453.47" y="58.70" font-size="15.00" fill="#131722" textLength="7.69" lengthAdjust="spacingAndGlyphs">L</text><text x="461.37" y="58.70" font-size="15.00" fill="#f23645" textLength="39.47" lengthAdjust="spacingAndGlyphs">4.19 T</text><text x="510.05" y="58.70" font-size="15.00" fill="#131722" textLength="9.33" lengthAdjust="spacingAndGlyphs">C</text><text x="519.15" y="58.70" font-size="15.00" fill="#f23645" textLength="32.70" lengthAdjust="spacingAndGlyphs">4.2 T</text><text x="560.00" y="58.70" font-size="15.00" fill="#f23645" textLength="117.80" lengthAdjust="spacingAndGlyphs">−21.71 B (−0.51%)</text><text x="1729.76" y="96.68" font-size="15.40" fill="#131722" textLength="32.60" lengthAdjust="spacingAndGlyphs" clip-path="url(#cpa)">4.4 T</text><text x="1729.76" y="158.93" font-size="15.40" fill="#131722" textLength="19.55" lengthAdjust="spacingAndGlyphs" clip-path="url(#cpa)">4 T</text><text x="1729.51" y="227.74" font-size="15.40" fill="#131722" textLength="32.60" lengthAdjust="spacingAndGlyphs" clip-path="url(#cpa)">3.6 T</text><text x="1729.51" y="304.66" font-size="15.40" fill="#131722" textLength="32.60" lengthAdjust="spacingAndGlyphs" clip-path="url(#cpa)">3.2 T</text><text x="1729.51" y="346.81" font-size="15.40" fill="#131722" textLength="19.55" lengthAdjust="spacingAndGlyphs" clip-path="url(#cpa)">3 T</text><text x="1729.32" y="391.87" font-size="15.40" fill="#131722" textLength="32.60" lengthAdjust="spacingAndGlyphs" clip-path="url(#cpa)">2.8 T</text><text x="1729.32" y="440.26" font-size="15.40" fill="#131722" textLength="32.60" lengthAdjust="spacingAndGlyphs" clip-path="url(#cpa)">2.6 T</text><text x="1729.32" y="481.74" font-size="15.40" fill="#131722" textLength="41.29" lengthAdjust="spacingAndGlyphs" clip-path="url(#cpa)">2.44 T</text><text x="1729.32" y="520.33" font-size="15.40" fill="#131722" textLength="32.60" lengthAdjust="spacingAndGlyphs" clip-path="url(#cpa)">2.3 T</text><text x="1734.18" y="59.40" font-size="14.00" fill="#131722" textLength="27.84" lengthAdjust="spacingAndGlyphs">USD</text><text x="1729.74" y="546.90" font-size="15.40" fill="#131722" textLength="38.35" lengthAdjust="spacingAndGlyphs" clip-path="url(#cra)">80.00</text><text x="1729.82" y="623.80" font-size="15.40" fill="#131722" textLength="38.27" lengthAdjust="spacingAndGlyphs" clip-path="url(#cra)">30.00</text><text x="1729.95" y="691.90" font-size="15.40" fill="#131722" textLength="7.90" lengthAdjust="spacingAndGlyphs" clip-path="url(#cma)">0</text><text x="22.61" y="553.70" font-size="15.00" fill="#131722" textLength="95.59" lengthAdjust="spacingAndGlyphs">RSI (14, close)</text><text x="127.14" y="553.70" font-size="15.00" fill="#7e57c2" textLength="37.94" lengthAdjust="spacingAndGlyphs">66.40</text><text x="22.00" y="648.70" font-size="15.00" fill="#131722" textLength="140.00" lengthAdjust="spacingAndGlyphs">MACD (12, 26, close)</text><text x="170.85" y="648.70" font-size="15.00" fill="#b2dfdb" textLength="26.90" lengthAdjust="spacingAndGlyphs">37 B</text><text x="206.06" y="648.70" font-size="15.00" fill="#4caf50" textLength="48.62" lengthAdjust="spacingAndGlyphs">80.08 B</text><text x="263.27" y="648.70" font-size="15.00" fill="#f23645" textLength="48.09" lengthAdjust="spacingAndGlyphs">43.08 B</text><text x="68.87" y="742.00" font-size="15.60" fill="#131722" textLength="34.56" lengthAdjust="spacingAndGlyphs" font-weight="bold">2025</text><text x="223.80" y="742.00" font-size="15.60" fill="#131722" textLength="25.31" lengthAdjust="spacingAndGlyphs">Feb</text><text x="359.47" y="742.00" font-size="15.60" fill="#131722" textLength="25.29" lengthAdjust="spacingAndGlyphs">Mar</text><text x="512.08" y="742.00" font-size="15.60" fill="#131722" textLength="22.86" lengthAdjust="spacingAndGlyphs">Apr</text><text x="654.84" y="742.00" font-size="15.60" fill="#131722" textLength="27.75" lengthAdjust="spacingAndGlyphs">May</text><text x="808.62" y="742.00" font-size="15.60" fill="#131722" textLength="23.68" lengthAdjust="spacingAndGlyphs">Jun</text><text x="956.99" y="742.00" font-size="15.60" fill="#131722" textLength="18.78" lengthAdjust="spacingAndGlyphs">Jul</text><text x="1103.69" y="742.00" font-size="15.60" fill="#131722" textLength="26.13" lengthAdjust="spacingAndGlyphs">Aug</text><text x="1254.01" y="742.00" font-size="15.60" fill="#131722" textLength="26.13" lengthAdjust="spacingAndGlyphs">Sep</text><text x="1401.28" y="742.00" font-size="15.60" fill="#131722" textLength="22.85" lengthAdjust="spacingAndGlyphs">Oct</text><text x="1550.16" y="742.00" font-size="15.60" fill="#131722" textLength="26.12" lengthAdjust="spacingAndGlyphs">Nov</text><text x="1696.03" y="742.00" font-size="15.60" fill="#131722" textLength="26.12" lengthAdjust="spacingAndGlyphs" clip-path="url(#ct2)">Dec</text><text x="1163.64" y="82.90" font-size="15.40" fill="#131722" textLength="84.40" lengthAdjust="spacingAndGlyphs">1.61 (4.49 T)</text><text x="1184.74" y="130.90" font-size="15.40" fill="#131722" textLength="63.30" lengthAdjust="spacingAndGlyphs">1 (4.17 T)</text><text x="1184.40" y="217.90" font-size="15.40" fill="#131722" textLength="63.24" lengthAdjust="spacingAndGlyphs">0 (3.65 T)</text><text x="771.04" y="224.70" font-size="22.70" fill="#131722" textLength="8.50" lengthAdjust="spacingAndGlyphs">1</text><text x="915.86" y="383.90" font-size="22.70" fill="#131722" textLength="12.68" lengthAdjust="spacingAndGlyphs">2</text><text x="1159.82" y="107.70" font-size="22.70" fill="#131722" textLength="11.36" lengthAdjust="spacingAndGlyphs">3</text><text x="1261.32" y="246.80" font-size="22.70" fill="#131722" textLength="12.22" lengthAdjust="spacingAndGlyphs">4</text><text x="1533.85" y="52.80" font-size="22.70" fill="#131722" textLength="11.83" lengthAdjust="spacingAndGlyphs">5</text><text x="1347.36" y="122.40" font-size="13.20" fill="#4caf50" textLength="5.72" lengthAdjust="spacingAndGlyphs" font-weight="bold">1</text><text x="1380.63" y="236.90" font-size="13.20" fill="#4caf50" textLength="7.71" lengthAdjust="spacingAndGlyphs" font-weight="bold">2</text><text x="1464.21" y="73.80" font-size="13.20" fill="#4caf50" textLength="7.24" lengthAdjust="spacingAndGlyphs" font-weight="bold">3</text><text x="1512.00" y="145.70" font-size="13.20" fill="#4caf50" textLength="7.26" lengthAdjust="spacingAndGlyphs" font-weight="bold">4</text><text x="1541.10" y="60.80" font-size="13.20" fill="#4caf50" textLength="7.36" lengthAdjust="spacingAndGlyphs" font-weight="bold">5</text><rect x="1724.5" y="39.5" width="71" height="31" rx="4" fill="none" stroke="#e0e3eb"/><path d="M1720 112.3h72.8a2 2 0 0 1 2 2v33.7a2 2 0 0 1-2 2h-72.8z" fill="#f23645"/><path d="M1720 546.1h52.1a2 2 0 0 1 2 2v16.7a2 2 0 0 1-2 2h-52.1z" fill="#7e57c2"/><path d="M1720 625h62.7a2 2 0 0 1 2 2v18.6h-64.7z" fill="#4caf50"/><path d="M1720 645.6h64.7v18.7a2 2 0 0 1-2 2h-62.7z" fill="#f23645"/><rect x="1720" y="668" width="43.6" height="19.5" fill="#b2dfdb"/><text x="1730.25" y="127.80" font-size="15.40" fill="#fff" textLength="33.52" lengthAdjust="spacingAndGlyphs">4.2 T</text><text x="1730.84" y="146.10" font-size="15.40" fill="#fff" textLength="59.43" lengthAdjust="spacingAndGlyphs">17:12:42</text><text x="1729.83" y="561.70" font-size="15.40" fill="#fff" textLength="38.77" lengthAdjust="spacingAndGlyphs">66.40</text><text x="1730.35" y="640.80" font-size="15.40" fill="#fff" textLength="48.93" lengthAdjust="spacingAndGlyphs">80.08 B</text><text x="1730.67" y="661.70" font-size="15.40" fill="#fff" textLength="48.60" lengthAdjust="spacingAndGlyphs">43.08 B</text><text x="1731.16" y="682.60" font-size="15.40" fill="#131722" textLength="26.58" lengthAdjust="spacingAndGlyphs">37 B</text><text x="61.82" y="800.10" font-size="26.90" fill="#131722" textLength="151.33" lengthAdjust="spacingAndGlyphs" font-weight="bold">TradingView</text><path d="M15 781.5h15.8v18.6h-8v-11.5h-7.8z" fill="#131722"/><circle cx="37.2" cy="785" r="3.5" fill="#131722"/><path d="M43.6 781.6h9.2l-6.9 18.5h-9.3z" fill="#131722"/></svg>
</body></html>
